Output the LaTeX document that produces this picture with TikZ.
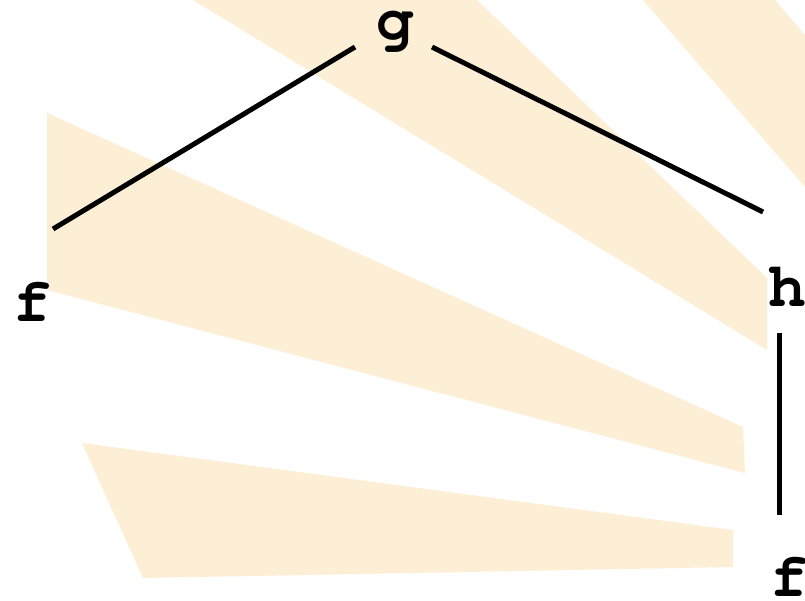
\documentclass[tikz,border=0pt]{standalone}
\definecolor{ray}{RGB}{252,239,213}
\tikzset{
  lbl/.style={anchor=base, inner sep=0pt, font=\fontsize{63}{63}\usefont{T1}{pcr}{b}{n}},
  edge/.style={line width=5pt, black},
  rayfill/.style={fill=ray}
}
\begin{document}
\begin{tikzpicture}[x=1pt,y=-1pt]
\useasboundingbox[fill=white] (0,0) rectangle (805,601);
% background rays
\fill[rayfill] (47,113) -- (743,427) -- (745,473) -- (47,290) -- cycle;
\fill[rayfill] (82,443) -- (733,530) -- (733,567) -- (143,578) -- cycle;
\fill[rayfill] (193,0) -- (477,0) -- (767,278) -- (767,350) -- cycle;
\fill[rayfill] (643,0) -- (775,0) -- (805,35) -- (805,187) -- cycle;
% nodes
\node[lbl] (g) at (395,40) {g};
\node[lbl] (f1) at (32.5,322) {f};
\node[lbl] (h) at (787.5,307) {h};
\node[lbl] (f2) at (789,596) {f};
% edges
\draw[edge] ([shift={(-40,7)}]g.base) -- ([shift={(20.5,-93)}]f1.base);
\draw[edge] ([shift={(37,7)}]g.base) -- ([shift={(-24.5,-95)}]h.base);
\draw[edge] ([shift={(-8.5,26)}]h.base) -- ([shift={(-10,-81)}]f2.base);
\end{tikzpicture}
\end{document}
